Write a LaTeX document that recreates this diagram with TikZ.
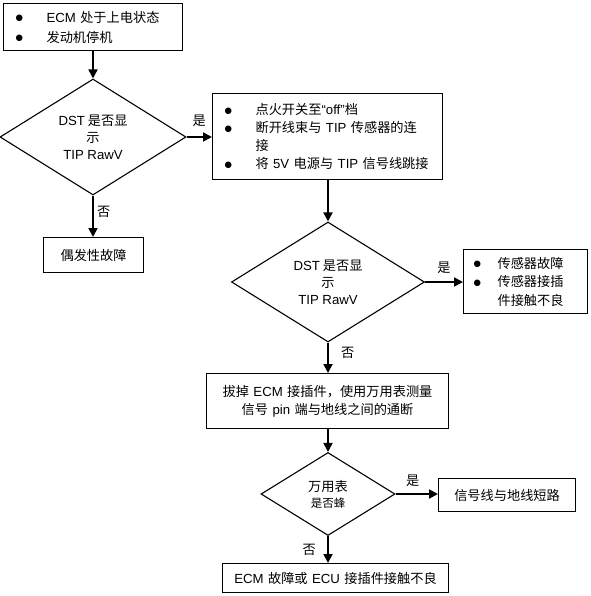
\documentclass[tikz,border=0pt]{standalone}
\usepackage{fontspec}
\setmainfont{Noto Sans CJK SC}
\newfontfamily\en{Liberation Sans}
\newfontfamily\sym{DejaVu Sans}
\usetikzlibrary{shapes.geometric,arrows.meta}
\newcommand{\bul}[1][31pt]{\makebox[#1][l]{\raisebox{1.5pt}{\fontsize{8.5}{8.5}\selectfont\sym ●}}}
\tikzset{
	box/.style={draw, line width=1.1pt, anchor=north west, align=left, inner ysep=0pt, font=\fontsize{13.2}{18}\selectfont},
	dec/.style={draw, diamond, line width=1.1pt, aspect=1.6, inner sep=0pt, align=center, font=\fontsize{13.2}{17}\selectfont},
	arr/.style={line width=1.8pt, -{Triangle[length=9pt,width=9pt]}},
	lbl/.style={font=\fontsize{13.2}{15}\selectfont}
}
\begin{document}
	\begin{tikzpicture}[x=1pt, y=-1pt]
		\useasboundingbox (0, 0) rectangle (590, 596);
		% boxes
		\node[box, minimum width=179pt, minimum height=47pt, inner xsep=12pt, text width=155pt, font=\fontsize{13.2}{20}\selectfont] (b1) at (3, 3) {\bul{\en ECM} 处于上电状态\\\bul 发动机停机};
		\node[box, minimum width=230pt, minimum height=86pt, inner xsep=12pt, text width=206pt] (b2) at (212, 93) {\bul 点火开关至{\en “off”}档\\\bul 断开线束与 {\en TIP} 传感器的连\\\hspace*{31pt}接\\\bul 将 {\en 5V} 电源与 {\en TIP} 信号线跳接};
		\node[box, minimum width=124pt, minimum height=64pt, inner xsep=10pt, text width=104pt, font=\fontsize{13.2}{18.5}\selectfont] (b3) at (463, 249) {\bul[24pt]传感器故障\\\bul[24pt]传感器接插\\\hspace*{24pt}件接触不良};
		\node[box, align=center, minimum width=242pt, minimum height=55pt, inner xsep=6pt, text width=230pt] (b4) at (206, 373) {拔掉 {\en ECM} 接插件，使用万用表测量\\信号 {\en pin} 端与地线之间的通断};
		\node[box, align=center, minimum width=137pt, minimum height=33pt, inner xsep=6pt, text width=125pt] (b5) at (438, 478) {信号线与地线短路};
		\node[box, align=center, minimum width=226pt, minimum height=29pt, inner xsep=6pt, text width=214pt] (b6) at (222, 563) {{\en ECM} 故障或 {\en ECU} 接插件接触不良};
		\node[box, align=center, minimum width=100pt, minimum height=35pt, inner xsep=6pt, text width=88pt] (b7) at (43, 237) {偶发性故障};
		% decisions
		\node[dec, minimum width=186pt, minimum height=116pt] (d1) at (93, 137) {{\en DST} 是否显\\示\\{\en TIP RawV}};
		\node[dec, minimum width=193pt, minimum height=120pt] (d2) at (328, 282) {{\en DST} 是否显\\示\\{\en TIP RawV}};
		\node[dec, minimum width=134pt, minimum height=83pt, font=\fontsize{13.2}{16}\selectfont] (d3) at (328, 494) {万用表\\{\fontsize{11.5}{11.5}\selectfont 是否蜂}};
		% arrows
		\draw[arr] (d1.north |- b1.south) -- (d1.north);
		\draw[arr] (d1.east) -- node[lbl, above=6pt] (y1) {是} (b2.west |- d1.east);
		\draw[arr] (d1.south) -- node[lbl, right, pos=0.4] (n1) {否} (d1.south |- b7.north);
		\draw[arr] (d2.north |- b2.south) -- (d2.north);
		\draw[arr] (d2.east) -- node[lbl, above=4.5pt] (y2) {是} (b3.west |- d2.east);
		\draw[arr] (d2.south) -- node[lbl, right=9pt, pos=0.35] (n2) {否} (d2.south |- b4.north);
		\draw[arr] (d3.north |- b4.south) -- (d3.north);
		\draw[arr] (d3.east) -- node[lbl, above=3.5pt, xshift=-4pt] (y3) {是} (b5.west |- d3.east);
		\draw[arr] (d3.south) -- node[lbl, left=8pt] (n3) {否} (d3.south |- b6.north);
	\end{tikzpicture}
\end{document}
